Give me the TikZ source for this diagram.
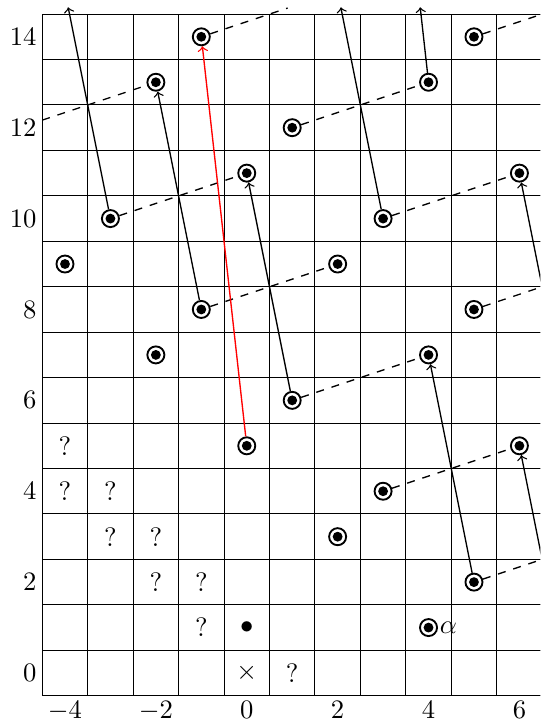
\documentclass[tikz,border=0pt]{standalone}
\begin{document}
\begin{tikzpicture}[x=0.6cm,y=0.6cm,
  pt/.style={circle,draw,line width=0.7pt,minimum size=6.4pt,inner sep=0pt,
    path picture={\fill (path picture bounding box.center) circle (1.85pt);}},
  gridline/.style={line width=0.36pt},
  lat/.style={dashed,line width=0.5pt},
  jump/.style={->,line width=0.5pt},
  redjump/.style={->,red,line width=0.5pt},
  qmark/.style={inner sep=0pt},
  ylab/.style={anchor=east,inner sep=2pt},
  xlab/.style={anchor=north,inner sep=2pt}]
\clip (-5.43,-1.10) rectangle (6.46,14.81);
% grid
\foreach \i in {-4,...,7} \draw[gridline] (\i-0.5,-0.5) -- (\i-0.5,14.5);
\foreach \j in {0,...,15} \draw[gridline] (-4.5,\j-0.5) -- (6.5,\j-0.5);
% axis labels
\foreach \k in {0,2,...,14} \node[ylab] (yl\k) at (-4.5,\k) {$\k$};
\foreach \k in {-4,-2,...,6} \node[xlab] (xl\k) at (\k,-0.5) {$\k$};
% points
\foreach \x/\y/\n in {0/5/p0x5, 1/6/p1x6, 4/7/p4x7, -1/8/pm1x8, 2/9/p2x9, 5/8/p5x8,
  -3/10/pm3x10, 0/11/p0x11, 3/10/p3x10, 6/11/p6x11, -2/13/pm2x13, 1/12/p1x12,
  4/13/p4x13, -1/14/pm1x14, 5/14/p5x14, -4/9/pm4x9, -2/7/pm2x7, 2/3/p2x3,
  3/4/p3x4, 6/5/p6x5, 5/2/p5x2}
  \node[pt] (\n) at (\x,\y) {};
\node[pt,label={[inner sep=0.5pt]east:$\alpha$}] (p4x1) at (4,1) {};
% free ends
\coordinate (t1) at (-3.93,14.65);
\coordinate (t2) at (2.07,14.65);
\coordinate (t3) at (3.817,14.65);
\coordinate (d1) at (0.9,14.633);
\coordinate (d2) at (6.6,14.533);
\coordinate (d3) at (-4.5,12.1667);
\coordinate (r1) at (6.5,8.5);
\coordinate (r2) at (6.5,2.5);
% dashed
\draw[lat] (p1x6) -- (p4x7);
\draw[lat] (pm1x8) -- (p2x9);
\draw[lat] (p5x8) -- (r1);
\draw[lat] (pm3x10) -- (p0x11);
\draw[lat] (p3x10) -- (p6x11);
\draw[lat] (d3) -- (pm2x13);
\draw[lat] (p1x12) -- (p4x13);
\draw[lat] (pm1x14) -- (d1);
\draw[lat] (p5x14) -- (d2);
\draw[lat] (p3x4) -- (p6x5);
\draw[lat] (p5x2) -- (r2);
% arrows
\draw[jump] (p5x2) -- (p4x7);
\draw[jump] (p1x6) -- (p0x11);
\draw[jump] (pm1x8) -- (pm2x13);
\draw[jump] (pm3x10) -- (t1);
\draw[jump] (p3x10) -- (t2);
\draw[jump] (p4x13) -- (t3);
\draw[jump] (r2) -- (p6x5);
\draw[jump] (r1) -- (p6x11);
\draw[redjump] (p0x5) -- (pm1x14);
% marks
\foreach \x/\y/\n in {-4/5/q1, -4/4/q2, -3/4/q3, -3/3/q4, -2/3/q5, -2/2/q6, -1/2/q7, -1/1/q8, 1/0/q9}
  \node[qmark] (\n) at (\x,\y) {?};
\node[qmark] (dot) at (0,1) {$\bullet$};
\node[qmark] (cross) at (0,0) {$\times$};
\end{tikzpicture}
\end{document}
